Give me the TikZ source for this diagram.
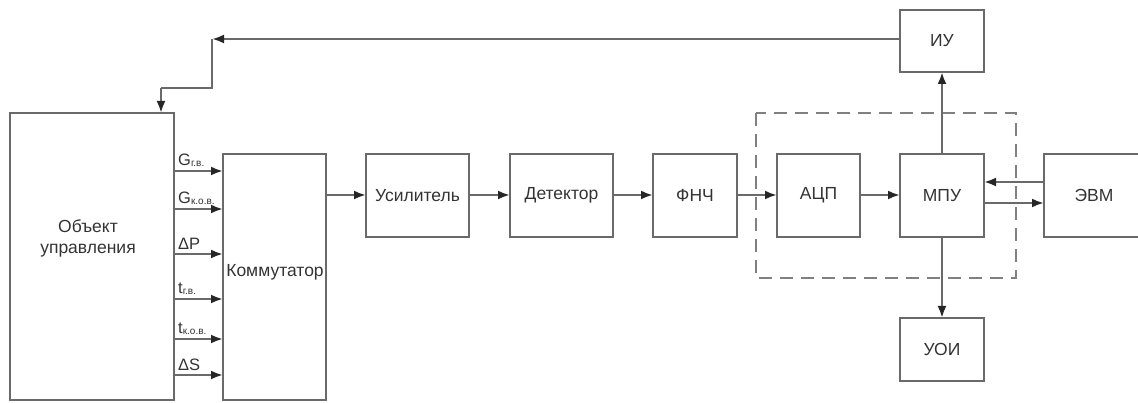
\documentclass[tikz,border=0pt]{standalone}
\usepackage{fontspec}
\setmainfont{Liberation Sans}
\usetikzlibrary{arrows.meta}
\definecolor{ln}{HTML}{6A6A6A}
\definecolor{tx}{HTML}{333333}
\tikzset{
  box/.style={draw=ln, line width=2.6pt, inner sep=0pt, outer sep=0pt, rectangle},
  txt/.style={text=tx, font=\fontsize{17.5}{21}\selectfont, align=center, inner sep=0pt},
  sig/.style={text=tx, inner sep=0pt, anchor=south west},
  conn/.style={draw=ln, line width=2.4pt},
  arr/.style={conn, -{Latex[length=12pt,width=9pt,black!85]}},
  grp/.style={draw=ln!85, line width=2.6pt, dash pattern=on 13pt off 8pt}
}
\newcommand{\sigG}[2]{{\fontsize{16.5}{16}\selectfont #1}\raisebox{-1pt}{\fontsize{10}{10}\selectfont #2}}
\begin{document}
\begin{tikzpicture}[x=1pt,y=-1pt]
\useasboundingbox (0,0) rectangle (1138,403);
% boxes
\node[box, minimum width=164pt, minimum height=287pt] (obj) at (92,256.5) {};
\node[txt] (objlabel) at (88,238) {Объект\\управления};
\node[box, minimum width=103pt, minimum height=246pt] (komm) at (274.5,277) {};
\node[txt] (kommlabel) at (275,272) {Коммутатор};
\node[box, minimum width=103pt, minimum height=83pt] (us) at (417.5,195.5) {};
\node[txt] (uslabel) at (us.center) {Усилитель};
\node[box, minimum width=103pt, minimum height=83pt] (det) at (561.5,195.5) {};
\node[txt] (detlabel) at (det.center) {Детектор};
\node[box, minimum width=84pt, minimum height=83pt] (fnch) at (695,195.5) {};
\node[txt] at (fnch.center) {ФНЧ};
\node[box, minimum width=83pt, minimum height=83pt] (acp) at (818.5,195.5) {};
\node[txt] at (acp.center) {АЦП};
\node[box, minimum width=84pt, minimum height=83pt] (mpu) at (942,195.5) {};
\node[txt] at (mpu.center) {МПУ};
\node[box, minimum width=104pt, minimum height=83pt] (evm) at (1096,195.5) {};
\node[txt] at (1094,195.5) {ЭВМ};
\node[box, minimum width=84pt, minimum height=62pt] (iu) at (942,41) {};
\node[txt] at (iu.center) {ИУ};
\node[box, minimum width=84pt, minimum height=63pt] (uoi) at (942,349.5) {};
\node[txt] at (uoi.center) {УОИ};
% dashed group
\draw[grp] (756,113) rectangle (1016,278);
% signals from object to commutator
\foreach \yy/\lab in {171/{\sigG{G}{г.в.}},209/{\sigG{G}{к.о.в.}},254/{{\fontsize{16.5}{16}\selectfont ΔP}},299/{\sigG{t}{г.в.}},339/{\sigG{t}{к.о.в.}},375/{{\fontsize{16.5}{16}\selectfont ΔS}}}{
  \draw[arr] (obj.east |- 0,\yy) -- (komm.west |- 0,\yy);
  \node[sig] at (178,\yy-4) {\lab};
}
% main chain
\draw[arr] (komm.east |- 0,195) -- (us.west |- 0,195);
\draw[arr] (us.east |- 0,195) -- (det.west |- 0,195);
\draw[arr] (det.east |- 0,195) -- (fnch.west |- 0,195);
\draw[arr] (fnch.east |- 0,195) -- (acp.west |- 0,195);
\draw[arr] (acp.east |- 0,195) -- (mpu.west |- 0,195);
\draw[arr] (evm.west |- 0,182) -- (mpu.east |- 0,182);
\draw[arr] (mpu.east |- 0,203) -- (evm.west |- 0,203);
\draw[arr] (mpu.north) -- (iu.south);
\draw[arr] (mpu.south) -- (uoi.north);
% feedback
\coordinate (fbA) at (212,39);
\coordinate (fbB) at (212,88);
\coordinate (fbC) at (161,88);
\draw[arr] (iu.west |- fbA) -- (fbA);
\draw[conn] (fbA) -- (fbB) -- (fbC);
\draw[arr] (fbC) -- (fbC |- obj.north);
\end{tikzpicture}
\end{document}
